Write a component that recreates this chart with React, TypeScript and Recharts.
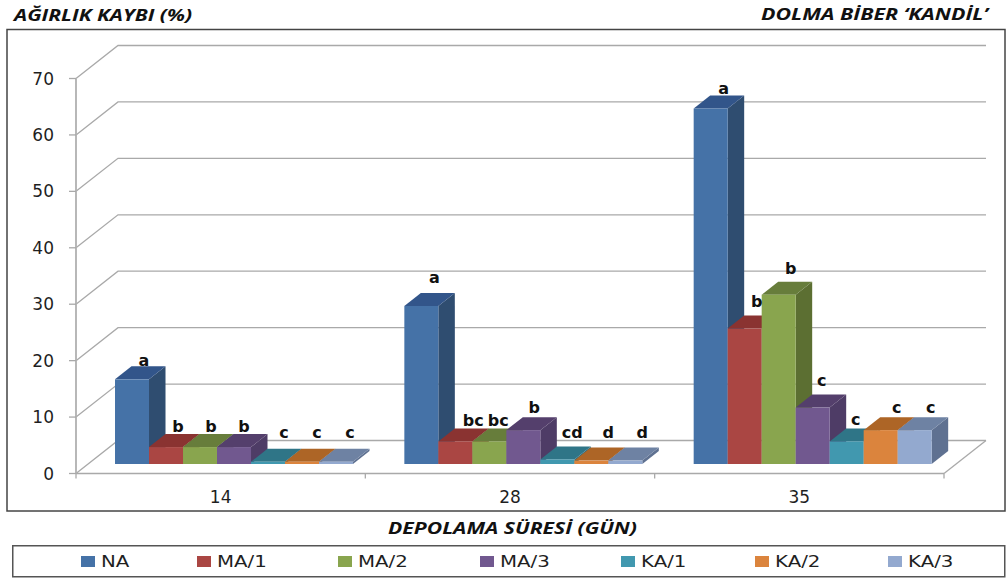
import { Bar, BarChart, CartesianGrid, LabelList, Legend, XAxis, YAxis } from "recharts";

const days = ["14", "28", "35"];
const yTicks = [0, 10, 20, 30, 40, 50, 60, 70];

const na = [15, 28, 63];
const ma1 = [3, 4, 24];
const ma2 = [3, 4, 30];
const ma3 = [3, 6, 10];
const ka1 = [0.4, 0.8, 4];
const ka2 = [0.4, 0.6, 6];
const ka3 = [0.4, 0.6, 6];

const naLetters = ["a", "a", "a"];
const ma1Letters = ["b", "bc", "b"];
const ma2Letters = ["b", "bc", "b"];
const ma3Letters = ["b", "b", "c"];
const ka1Letters = ["c", "cd", "c"];
const ka2Letters = ["c", "d", "c"];
const ka3Letters = ["c", "d", "c"];

const rows = days.map((day, i) => ({
  day,
  NA: na[i],
  "MA/1": ma1[i],
  "MA/2": ma2[i],
  "MA/3": ma3[i],
  "KA/1": ka1[i],
  "KA/2": ka2[i],
  "KA/3": ka3[i],
}));

// the significance letters were placed by hand, so each one has its own nudge per group
const series = [
  { key: "NA", letters: naLetters, front: "#4572a7", side: "#2f4d70", top: "#32558a", nudge: [[12, -19], [13, -29], [13, -20]] },
  { key: "MA/1", letters: ma1Letters, front: "#aa4643", side: "#7c3230", top: "#8a3331", nudge: [[12, -21], [18, -21], [12, -27]] },
  { key: "MA/2", letters: ma2Letters, front: "#89a54e", side: "#5c6f32", top: "#677d3b", nudge: [[11, -21], [9, -21], [12, -26]] },
  { key: "MA/3", letters: ma3Letters, front: "#71588f", side: "#4e3c66", top: "#543f6c", nudge: [[10, -21], [11, -23], [9, -27]] },
  { key: "KA/1", letters: ka1Letters, front: "#4198af", side: "#2d6a7c", top: "#2f7587", nudge: [[16, -29], [15, -27], [9, -22]] },
  { key: "KA/2", letters: ka2Letters, front: "#db843d", side: "#9c5f2b", top: "#ad6526", nudge: [[15, -29], [17, -28], [16, -23]] },
  { key: "KA/3", letters: ka3Letters, front: "#93a9cf", side: "#5f7191", top: "#6e82a3", nudge: [[14, -29], [17, -28], [16, -23]] },
];

const legendX = [81, 197, 338, 480, 621, 755, 888];

const WIDTH = 1006;
const HEIGHT = 578;
const LEFT = 76;
const RIGHT = 944;
const TOP = 78.5;
const BOTTOM = 473.5;
const BAND = (RIGHT - LEFT) / days.length;

// wall and floor depth
const WALL_DX = 42;
const WALL_DY = -33;
// bars stand part way into the floor, with their own smaller depth
const BAR_SHIFT_X = 13.35;
const BAR_SHIFT_Y = -9.5;
const BAR_DX = 16.5;
const BAR_DY = -13;

const GRID = "#a9a9a9";
const TEXT = "#1f1f1f";
const FONT = "'DejaVu Sans', sans-serif";
const TITLE_FONT = "'Open Sans', sans-serif";

function makeBox(side: string, top: string) {
  return function Box(props: any) {
    const { fill, width, height } = props;
    const x = props.x + BAR_SHIFT_X;
    const y = props.y + BAR_SHIFT_Y;
    const r = x + width;
    const b = y + height;
    return (
      <g>
        <polygon
          points={`${r},${y} ${r + BAR_DX},${y + BAR_DY} ${r + BAR_DX},${b + BAR_DY} ${r},${b}`}
          fill={side}
        />
        <polygon
          points={`${x},${y} ${x + BAR_DX},${y + BAR_DY} ${r + BAR_DX},${y + BAR_DY} ${r},${y}`}
          fill={top}
        />
        <rect x={x} y={y} width={width} height={height} fill={fill} />
      </g>
    );
  };
}

function makeLetter(letters: string[], nudge: number[][]) {
  return function Letter(props: any) {
    const box = props.viewBox ?? props;
    const i = props.index;
    const [dx, dy] = nudge[i];
    return (
      <text
        x={box.x + box.width / 2 + BAR_SHIFT_X + dx}
        y={box.y + BAR_SHIFT_Y + dy}
        dominantBaseline="central"
        textAnchor="middle"
        fontFamily={FONT}
        fontWeight="bold"
        fontSize={16}
        fill="#111"
      >
        {letters[i]}
      </text>
    );
  };
}

// one grid level: a diagonal up the side wall, then along the back wall
function WallLine(props: any) {
  const { y1, x1 } = props;
  const isFloor = Math.abs(y1 - BOTTOM) < 1;
  return (
    <g key={props.key} fill="none" stroke={GRID} strokeWidth={1.3}>
      <polyline
        points={`${x1},${y1} ${x1 + WALL_DX},${y1 + WALL_DY} ${RIGHT + WALL_DX},${y1 + WALL_DY}`}
      />
      {isFloor && <line x1={RIGHT} y1={y1} x2={RIGHT + WALL_DX} y2={y1 + WALL_DY} />}
    </g>
  );
}

// category ticks sit on the band edges, the label in the middle
function DayTick(props: any) {
  const { x, index, payload } = props;
  const left = x - BAND / 2;
  const right = x + BAND / 2;
  return (
    <g>
      <line x1={left} y1={BOTTOM} x2={left} y2={BOTTOM + 5} stroke={GRID} strokeWidth={1.3} />
      {index === days.length - 1 && (
        <line x1={right} y1={BOTTOM} x2={right} y2={BOTTOM + 5} stroke={GRID} strokeWidth={1.3} />
      )}
      <text x={x} y={BOTTOM + 29.5} textAnchor="middle" fontFamily={FONT} fontSize={17} fill={TEXT}>
        {payload.value}
      </text>
    </g>
  );
}

function LegendBox(props: any) {
  return (
    <svg width={994} height={33} style={{ display: "block", overflow: "visible" }}>
      <rect x={0.75} y={0.75} width={992} height={31} fill="#fff" stroke="#555" strokeWidth={1.5} />
      {props.payload.map((entry: any, i: number) => (
        <g key={entry.value}>
          <rect x={legendX[i] - 12} y={11} width={14} height={11} fill={entry.color} />
          <text
            transform={`translate(${legendX[i] + 8},22) scale(1.2,1)`}
            fontFamily={FONT}
            fontSize={16.5}
            fill={TEXT}
          >
            {entry.value}
          </text>
        </g>
      ))}
    </svg>
  );
}

function Title(props: { x: number; y: number; length: number; size: number; children: string }) {
  return (
    <text
      x={props.x}
      y={props.y}
      textLength={props.length}
      lengthAdjust="spacingAndGlyphs"
      fontFamily={TITLE_FONT}
      fontWeight="bold"
      fontStyle="italic"
      fontSize={props.size}
      fill="#111"
    >
      {props.children}
    </text>
  );
}

export default function App() {
  return (
    <div style={{ position: "absolute", left: 0, top: 0, width: WIDTH, height: HEIGHT, background: "#fff", overflow: "hidden" }}>
      <svg width={WIDTH} height={HEIGHT} style={{ position: "absolute", left: 0, top: 0 }}>
        <rect x={7} y={29.5} width={998} height={481.5} fill="#fff" stroke="#444" strokeWidth={1.5} />
        <Title x={14} y={21} length={178} size={16}>AĞIRLIK KAYBI (%)</Title>
        <Title x={761} y={20} length={227} size={16}>DOLMA BİBER ‘KANDİL’</Title>
        <Title x={388} y={534} length={249} size={16}>DEPOLAMA SÜRESİ (GÜN)</Title>
      </svg>
      <div style={{ position: "absolute", left: 0, top: 0 }}>
        <BarChart
          width={WIDTH}
          height={HEIGHT}
          data={rows}
          barGap={0}
          barCategoryGap={25.66}
          margin={{ left: LEFT - 1, right: WIDTH - RIGHT, top: TOP, bottom: HEIGHT - BOTTOM - 1 }}
        >
          <CartesianGrid horizontal={WallLine} vertical={false} syncWithTicks />
          <XAxis
            dataKey="day"
            height={1}
            axisLine={{ stroke: GRID, strokeWidth: 1.3 }}
            tickLine={false}
            tick={DayTick}
            interval={0}
          />
          <YAxis
            width={1}
            domain={[0, 70]}
            ticks={yTicks}
            interval={0}
            axisLine={{ stroke: "#b0b0b0", strokeWidth: 1.8 }}
            tickLine={{ stroke: GRID, strokeWidth: 1.3 }}
            tickSize={7}
            tickMargin={15}
            tick={{ fontFamily: FONT, fontSize: 17, fill: TEXT }}
          />
          <Legend
            verticalAlign="middle"
            content={LegendBox}
            itemSorter={null}
            wrapperStyle={{ left: 12, top: 544.5, width: 994, height: 33 }}
          />
          {series.map((s) => (
            <Bar
              key={s.key}
              dataKey={s.key}
              fill={s.front}
              shape={makeBox(s.side, s.top)}
              isAnimationActive={false}
            >
              <LabelList dataKey={s.key} content={makeLetter(s.letters, s.nudge)} />
            </Bar>
          ))}
        </BarChart>
      </div>
    </div>
  );
}
